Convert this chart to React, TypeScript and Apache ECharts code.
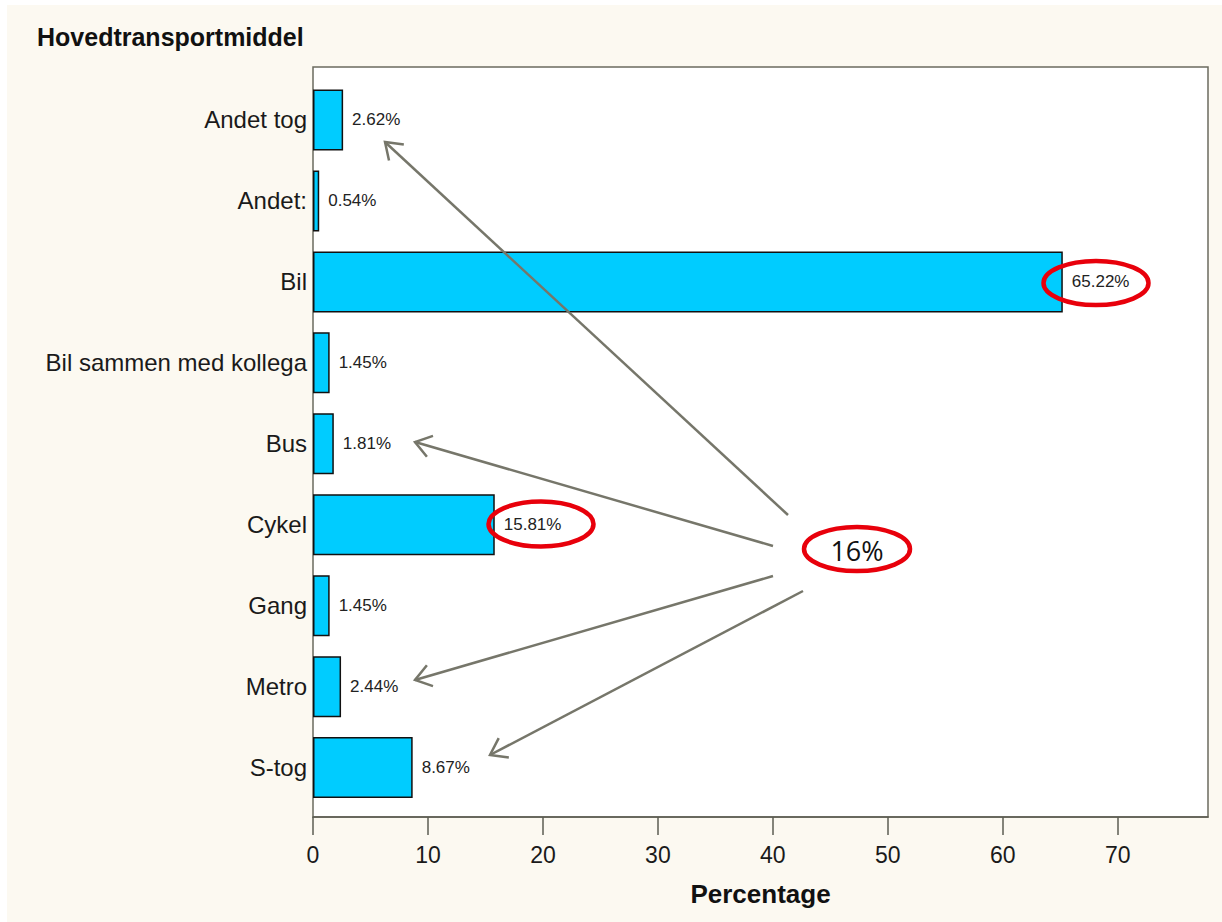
import React, { useEffect, useRef } from "react";
import * as echarts from "echarts";

const categories = [
  "Andet tog",
  "Andet:",
  "Bil",
  "Bil sammen med kollega",
  "Bus",
  "Cykel",
  "Gang",
  "Metro",
  "S-tog",
];
const percentages = [2.62, 0.54, 65.22, 1.45, 1.81, 15.81, 1.45, 2.44, 8.67];
const xAxisMax = 77.85;
const xTickStep = 10;
const chartTitle = "Hovedtransportmiddel";
const xAxisTitle = "Percentage";
const calloutText = "16%";

// hand-drawn annotation layer (arrows from the callout to some labels)
const arrowStarts = [
  [788, 515],
  [773, 546],
  [773, 576],
  [803, 591],
];
const arrowTips = [
  [385, 142],
  [415, 442],
  [415, 680],
  [490, 755],
];

const FONT = "'Liberation Sans', Arial, Helvetica, sans-serif";
const ARROW_COLOR = "#76766a";
const RED = "#e8000b";

function arrowHead(from: number[], to: number[], len: number, half: number) {
  const a = Math.atan2(from[1] - to[1], from[0] - to[0]);
  const h = (half * Math.PI) / 180;
  return [
    [to[0] + len * Math.cos(a + h), to[1] + len * Math.sin(a + h)],
    [to[0], to[1]],
    [to[0] + len * Math.cos(a - h), to[1] + len * Math.sin(a - h)],
  ];
}

export default function App() {
  const ref = useRef<HTMLDivElement>(null);

  useEffect(() => {
    if (!ref.current) return;
    const chart = echarts.init(ref.current, undefined, { renderer: "svg" });

    const arrowEls: any[] = [];
    arrowStarts.forEach((s, i) => {
      const t = arrowTips[i];
      arrowEls.push({
        type: "line",
        z: 100,
        shape: { x1: s[0], y1: s[1], x2: t[0], y2: t[1] },
        style: { stroke: ARROW_COLOR, lineWidth: 2.5 },
      });
      arrowEls.push({
        type: "polyline",
        z: 100,
        shape: { points: arrowHead(s, t, 19, 35) },
        style: { stroke: ARROW_COLOR, lineWidth: 2.5, fill: "none" },
      });
    });

    chart.setOption({
      animation: false,
      backgroundColor: "#ffffff",
      title: {
        text: chartTitle,
        left: 32,
        top: 19,
        textStyle: {
          fontFamily: FONT,
          fontSize: 25,
          fontWeight: "bold",
          color: "#111111",
        },
      },
      grid: {
        left: 313,
        right: 14,
        top: 79.5,
        height: 728.6,
        containLabel: false,
        outerBoundsMode: "none",
      },
      xAxis: {
        type: "value",
        min: 0,
        max: xAxisMax,
        interval: xTickStep,
        offset: 9,
        name: xAxisTitle,
        nameLocation: "middle",
        nameGap: 64,
        nameTextStyle: {
          fontFamily: FONT,
          fontSize: 26,
          fontWeight: "bold",
          color: "#111111",
        },
        axisLine: { show: true, lineStyle: { color: "#5c5c52", width: 1.5 } },
        axisTick: {
          show: true,
          inside: false,
          length: 18,
          lineStyle: { color: "#5c5c52", width: 1.5 },
        },
        axisLabel: {
          fontFamily: FONT,
          fontSize: 23,
          color: "#1a1a1a",
          margin: 26,
          showMaxLabel: false,
        },
        splitLine: { show: false },
      },
      yAxis: {
        type: "category",
        data: categories,
        inverse: true,
        axisLine: { show: false },
        axisTick: { show: false },
        axisLabel: {
          fontFamily: FONT,
          fontSize: 24,
          color: "#1a1a1a",
          margin: 6,
        },
        splitLine: { show: false },
      },
      series: [
        {
          type: "bar",
          data: percentages,
          barWidth: 61,
          itemStyle: {
            color: "#00ccff",
            borderColor: "#111111",
            borderWidth: 1.5,
          },
          label: {
            show: true,
            position: "right",
            distance: 9,
            fontFamily: FONT,
            fontSize: 17,
            color: "#222222",
            formatter: (p: any) => Number(p.value).toFixed(2) + "%",
          },
        },
      ],
      graphic: [
        {
          type: "rect",
          z: -20,
          silent: true,
          shape: { x: 7, y: 5, width: 1215, height: 917 },
          style: { fill: "#fcf9f1" },
        },
        {
          type: "rect",
          z: -10,
          silent: true,
          shape: { x: 313, y: 67, width: 895, height: 750 },
          style: { fill: "#ffffff", stroke: "#6b6b5f", lineWidth: 1.5 },
        },
        ...arrowEls,
        {
          type: "ellipse",
          z: 101,
          shape: { cx: 1096, cy: 283, rx: 52.5, ry: 22 },
          style: { fill: "none", stroke: RED, lineWidth: 4.5 },
        },
        {
          type: "ellipse",
          z: 101,
          shape: { cx: 541, cy: 524, rx: 52.5, ry: 22.5 },
          style: { fill: "none", stroke: RED, lineWidth: 4.5 },
        },
        {
          type: "ellipse",
          z: 101,
          shape: { cx: 857, cy: 549, rx: 53, ry: 22 },
          style: { fill: "#ffffff", stroke: RED, lineWidth: 4.5 },
        },
        {
          type: "text",
          z: 102,
          x: 857,
          y: 550,
          style: {
            text: calloutText,
            fontFamily: "'Open Sans', 'Noto Sans', sans-serif",
            fontSize: 27,
            fill: "#111111",
            align: "center",
            verticalAlign: "middle",
          },
        },
      ],
    });

    return () => chart.dispose();
  }, []);

  return (
    <div
      ref={ref}
      style={{ position: "fixed", left: 0, top: 0, width: 1222, height: 922 }}
    />
  );
}
